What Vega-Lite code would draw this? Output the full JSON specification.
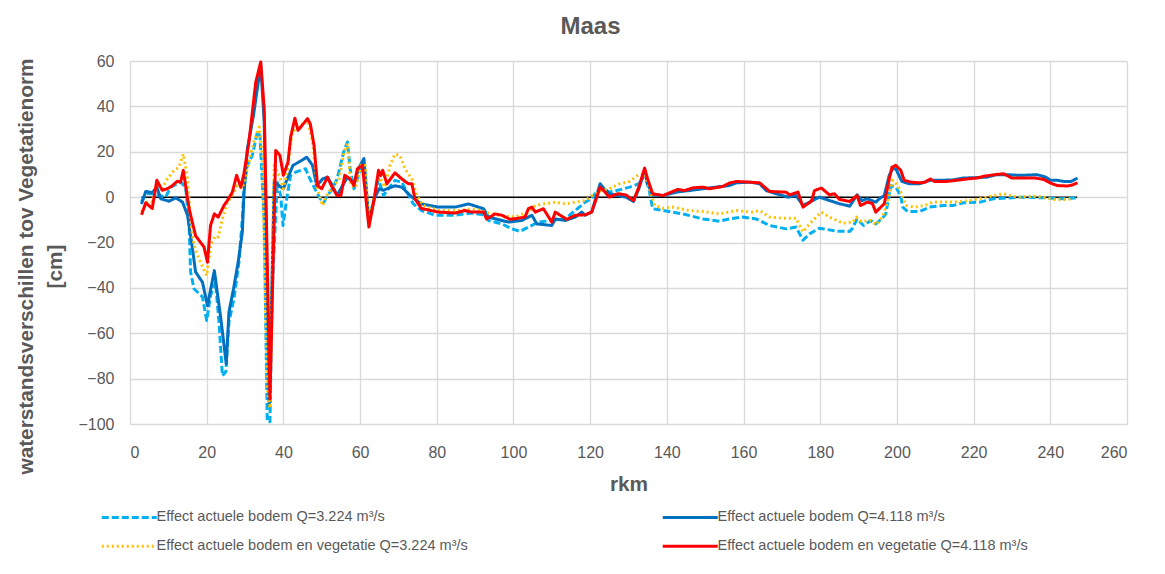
{
  "$schema": "https://vega.github.io/schema/vega-lite/v6.json",
  "width": 997,
  "height": 363,
  "autosize": {"type": "none"},
  "padding": {"left": 130, "top": 61, "right": 38, "bottom": 150},
  "background": "white",
  "title": {"text": "Maas", "fontSize": 24, "font": "Liberation Sans", "fontWeight": "bold", "color": "#595959", "anchor": "middle", "dx": -38, "offset": 14},
  "config": {
    "font": "Liberation Sans",
    "view": {"stroke": null},
    "axis": {"labelFont": "Liberation Sans", "labelFontSize": 16, "labelColor": "#595959", "titleFont": "Liberation Sans", "titleFontSize": 20.8, "titleFontWeight": "bold", "titleColor": "#595959", "gridColor": "#d9d9d9", "gridWidth": 1.3, "ticks": false, "domain": false}
  },
  "datasets": {
    "zero": [{"x": 3, "y": 0}, {"x": 247, "y": 0}],
    "lines": [
      {"s":"A","x":3,"y":-2},{"s":"A","x":4.1,"y":1.5},{"s":"A","x":5.8,"y":1.5},{"s":"A","x":7.6,"y":0.7},{"s":"A","x":9.3,"y":0},{"s":"A","x":10.6,"y":4.4},{"s":"A","x":13.2,"y":6.6},{"s":"A","x":14.5,"y":4.4},{"s":"A","x":15.4,"y":-11},{"s":"A","x":15.8,"y":-33},{"s":"A","x":16.7,"y":-40.4},{"s":"A","x":18.9,"y":-44},{"s":"A","x":20,"y":-54.4},{"s":"A","x":21,"y":-43.4},{"s":"A","x":22.3,"y":-37.5},{"s":"A","x":23.2,"y":-55},{"s":"A","x":24.1,"y":-78.7},{"s":"A","x":25,"y":-77},{"s":"A","x":25.8,"y":-55},{"s":"A","x":27.1,"y":-44.9},{"s":"A","x":28.4,"y":-28.7},{"s":"A","x":29.3,"y":-9.6},{"s":"A","x":29.7,"y":3.7},{"s":"A","x":30.6,"y":14},{"s":"A","x":31.9,"y":18.4},{"s":"A","x":33.2,"y":28.7},{"s":"A","x":33.9,"y":27},{"s":"A","x":35,"y":-11},{"s":"A","x":35.8,"y":-99},{"s":"A","x":36.5,"y":-99},{"s":"A","x":37.1,"y":-40},{"s":"A","x":38.4,"y":6.6},{"s":"A","x":39.3,"y":0.7},{"s":"A","x":39.9,"y":-12.5},{"s":"A","x":41,"y":0.7},{"s":"A","x":41.9,"y":9.6},{"s":"A","x":43.2,"y":11},{"s":"A","x":45.8,"y":12.5},{"s":"A","x":46.7,"y":8.8},{"s":"A","x":48,"y":4.4},{"s":"A","x":49.6,"y":-0.7},{"s":"A","x":50.6,"y":-2.2},{"s":"A","x":51.5,"y":0.7},{"s":"A","x":52.8,"y":3.7},{"s":"A","x":54,"y":8},{"s":"A","x":55.7,"y":19.8},{"s":"A","x":56.7,"y":24.3},{"s":"A","x":57.4,"y":12.5},{"s":"A","x":58.4,"y":3.7},{"s":"A","x":59.7,"y":10.3},{"s":"A","x":61,"y":15.4},{"s":"A","x":62.3,"y":-11},{"s":"A","x":64.8,"y":8},{"s":"A","x":66.1,"y":0.7},{"s":"A","x":67.4,"y":3.7},{"s":"A","x":69.1,"y":7.4},{"s":"A","x":70.9,"y":6.6},{"s":"A","x":72.2,"y":2.2},{"s":"A","x":73.9,"y":-3},{"s":"A","x":76,"y":-5.9},{"s":"A","x":79.6,"y":-8},{"s":"A","x":84.8,"y":-8},{"s":"A","x":89.1,"y":-7},{"s":"A","x":92.2,"y":-7.8},{"s":"A","x":93.5,"y":-10.3},{"s":"A","x":97,"y":-11.8},{"s":"A","x":99.6,"y":-14},{"s":"A","x":101.7,"y":-15.1},{"s":"A","x":103.9,"y":-13.2},{"s":"A","x":106.5,"y":-11},{"s":"A","x":110,"y":-10.3},{"s":"A","x":113.5,"y":-9.6},{"s":"A","x":116.1,"y":-5.9},{"s":"A","x":118.7,"y":-2.2},{"s":"A","x":120.4,"y":-0.7},{"s":"A","x":121.3,"y":1.5},{"s":"A","x":123,"y":4.4},{"s":"A","x":125,"y":2.2},{"s":"A","x":127.2,"y":3},{"s":"A","x":130.3,"y":4.4},{"s":"A","x":132.7,"y":5.9},{"s":"A","x":134.2,"y":9.6},{"s":"A","x":135.5,"y":2.2},{"s":"A","x":136.3,"y":-5.1},{"s":"A","x":139,"y":-5.9},{"s":"A","x":144.2,"y":-7.4},{"s":"A","x":149.4,"y":-9.6},{"s":"A","x":153.7,"y":-10.6},{"s":"A","x":156.3,"y":-9.6},{"s":"A","x":159.8,"y":-8.8},{"s":"A","x":163.3,"y":-9.6},{"s":"A","x":166.8,"y":-12.5},{"s":"A","x":171.1,"y":-14},{"s":"A","x":173.7,"y":-13.2},{"s":"A","x":175.5,"y":-19},{"s":"A","x":177.2,"y":-16.2},{"s":"A","x":179.8,"y":-13.7},{"s":"A","x":184.2,"y":-15},{"s":"A","x":187.7,"y":-15.1},{"s":"A","x":188.3,"y":-14},{"s":"A","x":189.6,"y":-9.6},{"s":"A","x":191.3,"y":-12.5},{"s":"A","x":193.2,"y":-10.3},{"s":"A","x":194.5,"y":-11.8},{"s":"A","x":196.2,"y":-9.3},{"s":"A","x":197.1,"y":-7.4},{"s":"A","x":198.4,"y":5.1},{"s":"A","x":199.7,"y":4.4},{"s":"A","x":201,"y":0.7},{"s":"A","x":201.5,"y":-4.4},{"s":"A","x":202.8,"y":-6.3},{"s":"A","x":205.9,"y":-6.3},{"s":"A","x":208.5,"y":-4.4},{"s":"A","x":212,"y":-3.7},{"s":"A","x":214.6,"y":-3.7},{"s":"A","x":217.3,"y":-2.5},{"s":"A","x":221.7,"y":-2.2},{"s":"A","x":225.2,"y":-0.7},{"s":"A","x":228.7,"y":-0.4},{"s":"A","x":232.2,"y":0},{"s":"A","x":236.6,"y":-0.2},{"s":"A","x":240,"y":-0.4},{"s":"A","x":242.7,"y":-0.7},{"s":"A","x":246.7,"y":-0.4},
      {"s":"B","x":3,"y":-3},{"s":"B","x":4.1,"y":2.5},{"s":"B","x":5.8,"y":2},{"s":"B","x":7,"y":4.4},{"s":"B","x":8,"y":-0.7},{"s":"B","x":10.2,"y":-1.8},{"s":"B","x":11.9,"y":-0.3},{"s":"B","x":13.7,"y":-2.2},{"s":"B","x":15,"y":-8},{"s":"B","x":16.3,"y":-22.8},{"s":"B","x":17.1,"y":-33},{"s":"B","x":18.9,"y":-37.5},{"s":"B","x":20.2,"y":-47.8},{"s":"B","x":22,"y":-32.4},{"s":"B","x":23.7,"y":-53.7},{"s":"B","x":25.1,"y":-73.5},{"s":"B","x":25.8,"y":-50.7},{"s":"B","x":27,"y":-40.4},{"s":"B","x":28.2,"y":-28.7},{"s":"B","x":29.3,"y":-15.4},{"s":"B","x":29.7,"y":0.7},{"s":"B","x":30.6,"y":21.3},{"s":"B","x":32.2,"y":36},{"s":"B","x":33.2,"y":47.8},{"s":"B","x":34.1,"y":58},{"s":"B","x":35,"y":33},{"s":"B","x":36.3,"y":-92},{"s":"B","x":37.6,"y":6.6},{"s":"B","x":38.9,"y":5},{"s":"B","x":40,"y":3.7},{"s":"B","x":41,"y":8},{"s":"B","x":42.5,"y":14},{"s":"B","x":44,"y":15.4},{"s":"B","x":46.1,"y":17.6},{"s":"B","x":47.6,"y":14},{"s":"B","x":48.7,"y":5},{"s":"B","x":50.2,"y":8},{"s":"B","x":51.5,"y":8.8},{"s":"B","x":52.8,"y":5},{"s":"B","x":54,"y":0.7},{"s":"B","x":55.4,"y":5},{"s":"B","x":56.7,"y":8.8},{"s":"B","x":58.4,"y":6},{"s":"B","x":59.7,"y":13},{"s":"B","x":61,"y":17},{"s":"B","x":62.3,"y":-11},{"s":"B","x":63.7,"y":-0.7},{"s":"B","x":65,"y":3.7},{"s":"B","x":66,"y":3},{"s":"B","x":69.1,"y":5},{"s":"B","x":70.9,"y":4.4},{"s":"B","x":72.2,"y":2.2},{"s":"B","x":73.5,"y":0},{"s":"B","x":76,"y":-3},{"s":"B","x":80.4,"y":-4.4},{"s":"B","x":84.8,"y":-4.4},{"s":"B","x":88.3,"y":-3},{"s":"B","x":92.2,"y":-5.1},{"s":"B","x":93.5,"y":-8.8},{"s":"B","x":98.7,"y":-11},{"s":"B","x":102.2,"y":-10.3},{"s":"B","x":104.8,"y":-8},{"s":"B","x":106.1,"y":-11.8},{"s":"B","x":110,"y":-12.5},{"s":"B","x":110.9,"y":-9.6},{"s":"B","x":113.5,"y":-10.3},{"s":"B","x":116.1,"y":-8.8},{"s":"B","x":117.8,"y":-6.6},{"s":"B","x":118.7,"y":-8},{"s":"B","x":120.4,"y":-6.6},{"s":"B","x":122.6,"y":5.9},{"s":"B","x":124,"y":3},{"s":"B","x":125,"y":1.5},{"s":"B","x":127.2,"y":0.7},{"s":"B","x":129.3,"y":0},{"s":"B","x":131.3,"y":-1.9},{"s":"B","x":132.7,"y":3.7},{"s":"B","x":134.2,"y":11.8},{"s":"B","x":135,"y":5.9},{"s":"B","x":136.3,"y":1},{"s":"B","x":139,"y":0.7},{"s":"B","x":142.4,"y":2.2},{"s":"B","x":145.9,"y":2.9},{"s":"B","x":149.4,"y":3.7},{"s":"B","x":152.8,"y":4.4},{"s":"B","x":156.3,"y":5.1},{"s":"B","x":158.1,"y":6.3},{"s":"B","x":161.6,"y":6.6},{"s":"B","x":164.2,"y":5.9},{"s":"B","x":165.9,"y":2.9},{"s":"B","x":168.5,"y":1.5},{"s":"B","x":171.6,"y":0},{"s":"B","x":173.7,"y":0.7},{"s":"B","x":175.5,"y":-3.7},{"s":"B","x":177.2,"y":-2.2},{"s":"B","x":179.8,"y":0},{"s":"B","x":182.4,"y":-1.5},{"s":"B","x":185,"y":-2.9},{"s":"B","x":187.7,"y":-4},{"s":"B","x":189.6,"y":1},{"s":"B","x":190.9,"y":-1.5},{"s":"B","x":192.3,"y":-0.7},{"s":"B","x":194.5,"y":-2.2},{"s":"B","x":195.4,"y":-0.7},{"s":"B","x":196.7,"y":0.7},{"s":"B","x":198,"y":9.6},{"s":"B","x":198.9,"y":12.5},{"s":"B","x":199.7,"y":12.5},{"s":"B","x":201.3,"y":6.9},{"s":"B","x":203.2,"y":5.9},{"s":"B","x":205.9,"y":5.9},{"s":"B","x":208.7,"y":7.4},{"s":"B","x":211.1,"y":7.4},{"s":"B","x":214.6,"y":7.6},{"s":"B","x":217.3,"y":8.4},{"s":"B","x":220.8,"y":8.6},{"s":"B","x":223.4,"y":8.8},{"s":"B","x":226,"y":9.9},{"s":"B","x":228.7,"y":9.9},{"s":"B","x":232.2,"y":9.6},{"s":"B","x":236.6,"y":9.9},{"s":"B","x":238.8,"y":8.8},{"s":"B","x":240.1,"y":7.4},{"s":"B","x":241.8,"y":7.4},{"s":"B","x":243.6,"y":6.9},{"s":"B","x":245.4,"y":6.9},{"s":"B","x":247.1,"y":8.4},
      {"s":"C","x":3,"y":-6.6},{"s":"C","x":4.5,"y":-2.2},{"s":"C","x":5.8,"y":-2.2},{"s":"C","x":7,"y":6.6},{"s":"C","x":8.4,"y":3.7},{"s":"C","x":9.7,"y":8},{"s":"C","x":11.5,"y":11.8},{"s":"C","x":12.8,"y":13.2},{"s":"C","x":13.9,"y":19},{"s":"C","x":15,"y":8},{"s":"C","x":15.8,"y":-11},{"s":"C","x":16.7,"y":-21.3},{"s":"C","x":18,"y":-27.2},{"s":"C","x":20,"y":-34.6},{"s":"C","x":21,"y":-21.3},{"s":"C","x":22.3,"y":-17},{"s":"C","x":23,"y":-17.5},{"s":"C","x":24.1,"y":-9.6},{"s":"C","x":25.4,"y":-2.2},{"s":"C","x":26.7,"y":0.7},{"s":"C","x":28,"y":5},{"s":"C","x":29.3,"y":3.7},{"s":"C","x":30.6,"y":12.5},{"s":"C","x":32.3,"y":24.3},{"s":"C","x":33.7,"y":30.9},{"s":"C","x":34.5,"y":18.4},{"s":"C","x":35.8,"y":-84.6},{"s":"C","x":36.5,"y":-93},{"s":"C","x":37.6,"y":14},{"s":"C","x":38.9,"y":9.6},{"s":"C","x":40,"y":3.7},{"s":"C","x":41,"y":11},{"s":"C","x":42.3,"y":28.7},{"s":"C","x":43.7,"y":30.9},{"s":"C","x":46.3,"y":33.8},{"s":"C","x":47.6,"y":24.3},{"s":"C","x":48.9,"y":3.7},{"s":"C","x":50.2,"y":-3.7},{"s":"C","x":51.5,"y":1.5},{"s":"C","x":52.8,"y":4.4},{"s":"C","x":54.5,"y":8},{"s":"C","x":55.8,"y":19.8},{"s":"C","x":56.7,"y":23.5},{"s":"C","x":57.6,"y":5},{"s":"C","x":58.9,"y":4.4},{"s":"C","x":60.2,"y":14},{"s":"C","x":61.3,"y":14},{"s":"C","x":62.3,"y":-11},{"s":"C","x":64.8,"y":9.6},{"s":"C","x":66.5,"y":4.4},{"s":"C","x":67.8,"y":14},{"s":"C","x":69.1,"y":19},{"s":"C","x":70.4,"y":18.4},{"s":"C","x":71.7,"y":12.5},{"s":"C","x":73.5,"y":8},{"s":"C","x":74.8,"y":0.7},{"s":"C","x":76.5,"y":-3.7},{"s":"C","x":80.4,"y":-5.9},{"s":"C","x":85.7,"y":-5.9},{"s":"C","x":89.1,"y":-5.1},{"s":"C","x":92.2,"y":-6.3},{"s":"C","x":94.3,"y":-7.4},{"s":"C","x":97.8,"y":-8.4},{"s":"C","x":100.4,"y":-8.8},{"s":"C","x":103.9,"y":-6.6},{"s":"C","x":105.7,"y":-3.7},{"s":"C","x":107.8,"y":-3},{"s":"C","x":110.9,"y":-2.2},{"s":"C","x":113.5,"y":-3},{"s":"C","x":116.1,"y":-2.2},{"s":"C","x":118.7,"y":-1.5},{"s":"C","x":120.4,"y":0.7},{"s":"C","x":123,"y":2.9},{"s":"C","x":125,"y":3.7},{"s":"C","x":127.7,"y":5.9},{"s":"C","x":130.3,"y":6.9},{"s":"C","x":132.4,"y":9.6},{"s":"C","x":134.2,"y":10.3},{"s":"C","x":135.5,"y":3.7},{"s":"C","x":136.8,"y":-3.7},{"s":"C","x":139,"y":-4.9},{"s":"C","x":141.6,"y":-4.4},{"s":"C","x":145.9,"y":-5.9},{"s":"C","x":149.4,"y":-6.3},{"s":"C","x":153.7,"y":-7.4},{"s":"C","x":158.1,"y":-5.9},{"s":"C","x":162.4,"y":-6.6},{"s":"C","x":164.2,"y":-5.9},{"s":"C","x":166.8,"y":-8.8},{"s":"C","x":170.3,"y":-9.3},{"s":"C","x":173.7,"y":-9.3},{"s":"C","x":175.5,"y":-15.4},{"s":"C","x":177.2,"y":-11.8},{"s":"C","x":180.3,"y":-6.6},{"s":"C","x":182.4,"y":-8.8},{"s":"C","x":185.9,"y":-11.5},{"s":"C","x":188.5,"y":-11},{"s":"C","x":189.4,"y":-8.8},{"s":"C","x":190.7,"y":-10.7},{"s":"C","x":193.2,"y":-10.3},{"s":"C","x":194.5,"y":-12.2},{"s":"C","x":196.2,"y":-8.8},{"s":"C","x":197.5,"y":-2.2},{"s":"C","x":198.9,"y":7.4},{"s":"C","x":200.2,"y":5.1},{"s":"C","x":201,"y":2.2},{"s":"C","x":202.4,"y":-3.7},{"s":"C","x":204.6,"y":-4.4},{"s":"C","x":207.2,"y":-3.7},{"s":"C","x":209.4,"y":-2.2},{"s":"C","x":214.6,"y":-2.2},{"s":"C","x":219,"y":-1.5},{"s":"C","x":223.4,"y":0},{"s":"C","x":227.8,"y":1.5},{"s":"C","x":231.3,"y":0},{"s":"C","x":236.6,"y":0.4},{"s":"C","x":241,"y":-1},{"s":"C","x":244.5,"y":-1},{"s":"C","x":246.2,"y":-0.7},
      {"s":"D","x":3,"y":-7.8},{"s":"D","x":4.1,"y":-2.5},{"s":"D","x":5.8,"y":-5},{"s":"D","x":7,"y":7.4},{"s":"D","x":8.4,"y":3},{"s":"D","x":9.7,"y":3.7},{"s":"D","x":11,"y":5},{"s":"D","x":12.3,"y":7},{"s":"D","x":13.2,"y":6.6},{"s":"D","x":13.9,"y":11.8},{"s":"D","x":15.4,"y":-5},{"s":"D","x":17.1,"y":-17},{"s":"D","x":19.3,"y":-22},{"s":"D","x":20.2,"y":-28.7},{"s":"D","x":21,"y":-12.5},{"s":"D","x":22,"y":-7.4},{"s":"D","x":23,"y":-8.8},{"s":"D","x":24.5,"y":-3.7},{"s":"D","x":25.4,"y":-1.5},{"s":"D","x":26.7,"y":2.2},{"s":"D","x":27.8,"y":9.6},{"s":"D","x":28.9,"y":4.4},{"s":"D","x":29.7,"y":10.3},{"s":"D","x":31,"y":24},{"s":"D","x":32.8,"y":50.7},{"s":"D","x":34.1,"y":59.6},{"s":"D","x":35,"y":39},{"s":"D","x":36.5,"y":-89},{"s":"D","x":38,"y":20.6},{"s":"D","x":39.1,"y":18.4},{"s":"D","x":40,"y":9.6},{"s":"D","x":41.2,"y":15.4},{"s":"D","x":41.9,"y":26.5},{"s":"D","x":43,"y":34.8},{"s":"D","x":43.8,"y":29.4},{"s":"D","x":46.3,"y":34.6},{"s":"D","x":47,"y":32.4},{"s":"D","x":48,"y":22.8},{"s":"D","x":48.9,"y":5.1},{"s":"D","x":50,"y":3.7},{"s":"D","x":51.5,"y":8.8},{"s":"D","x":52.5,"y":5.1},{"s":"D","x":54,"y":0.7},{"s":"D","x":55,"y":0.7},{"s":"D","x":56,"y":9.6},{"s":"D","x":57.4,"y":8},{"s":"D","x":58.4,"y":5.1},{"s":"D","x":59.3,"y":12.5},{"s":"D","x":60.6,"y":14},{"s":"D","x":62.3,"y":-13.2},{"s":"D","x":63.7,"y":-0.7},{"s":"D","x":64.8,"y":11.8},{"s":"D","x":65.4,"y":9.5},{"s":"D","x":65.9,"y":11.8},{"s":"D","x":67,"y":5.9},{"s":"D","x":69.1,"y":10.7},{"s":"D","x":70.9,"y":8},{"s":"D","x":72.6,"y":5.9},{"s":"D","x":73.5,"y":5.9},{"s":"D","x":74.3,"y":-0.7},{"s":"D","x":76,"y":-5},{"s":"D","x":80.4,"y":-6.6},{"s":"D","x":84.8,"y":-7},{"s":"D","x":87.4,"y":-5.9},{"s":"D","x":89.1,"y":-6.6},{"s":"D","x":92.2,"y":-6.6},{"s":"D","x":93,"y":-9.6},{"s":"D","x":95.2,"y":-7.4},{"s":"D","x":97,"y":-8},{"s":"D","x":99.1,"y":-9.8},{"s":"D","x":101.3,"y":-9.3},{"s":"D","x":103,"y":-8.8},{"s":"D","x":103.9,"y":-5.1},{"s":"D","x":104.8,"y":-4.4},{"s":"D","x":105.7,"y":-6.6},{"s":"D","x":107.8,"y":-5.1},{"s":"D","x":110,"y":-11},{"s":"D","x":110.9,"y":-6.6},{"s":"D","x":112.2,"y":-8},{"s":"D","x":113.9,"y":-9.8},{"s":"D","x":116.1,"y":-8},{"s":"D","x":118.7,"y":-7.8},{"s":"D","x":120.4,"y":-6.6},{"s":"D","x":121.3,"y":-2.2},{"s":"D","x":122.6,"y":4.4},{"s":"D","x":123.9,"y":2.2},{"s":"D","x":125,"y":0},{"s":"D","x":127.2,"y":1.5},{"s":"D","x":129.3,"y":1},{"s":"D","x":131.3,"y":-1.5},{"s":"D","x":132.7,"y":4.4},{"s":"D","x":134.2,"y":12.8},{"s":"D","x":135,"y":8},{"s":"D","x":136.3,"y":1.5},{"s":"D","x":139,"y":0.7},{"s":"D","x":140.7,"y":1.9},{"s":"D","x":142.9,"y":3.4},{"s":"D","x":144.6,"y":2.9},{"s":"D","x":146.8,"y":4.1},{"s":"D","x":149.4,"y":4.4},{"s":"D","x":151.1,"y":3.7},{"s":"D","x":154.6,"y":4.7},{"s":"D","x":156.3,"y":6.2},{"s":"D","x":158.1,"y":6.9},{"s":"D","x":161.6,"y":6.6},{"s":"D","x":164.2,"y":6.3},{"s":"D","x":166.8,"y":2.5},{"s":"D","x":171.1,"y":2.2},{"s":"D","x":172,"y":1},{"s":"D","x":174.2,"y":2.2},{"s":"D","x":175.5,"y":-4.4},{"s":"D","x":177.7,"y":-1.8},{"s":"D","x":178.5,"y":2.9},{"s":"D","x":180.3,"y":4},{"s":"D","x":182.4,"y":1},{"s":"D","x":183.7,"y":1.5},{"s":"D","x":185,"y":-1},{"s":"D","x":187.7,"y":-1.9},{"s":"D","x":189.6,"y":0.7},{"s":"D","x":190.5,"y":-3.7},{"s":"D","x":192.3,"y":-2.2},{"s":"D","x":193.6,"y":-2.8},{"s":"D","x":194.5,"y":-6.6},{"s":"D","x":195.8,"y":-4.4},{"s":"D","x":196.7,"y":-2.9},{"s":"D","x":198,"y":8},{"s":"D","x":198.7,"y":13.2},{"s":"D","x":199.7,"y":14},{"s":"D","x":201,"y":11.8},{"s":"D","x":201.9,"y":7.4},{"s":"D","x":203.7,"y":6.6},{"s":"D","x":205.9,"y":6.3},{"s":"D","x":207.3,"y":6.6},{"s":"D","x":208.7,"y":8},{"s":"D","x":209.8,"y":6.9},{"s":"D","x":212.9,"y":6.9},{"s":"D","x":215.5,"y":7.4},{"s":"D","x":218.2,"y":8},{"s":"D","x":220.8,"y":8.4},{"s":"D","x":223,"y":9.3},{"s":"D","x":225.6,"y":9.9},{"s":"D","x":227.8,"y":10.3},{"s":"D","x":230,"y":8.4},{"s":"D","x":233.1,"y":8.4},{"s":"D","x":236.1,"y":8.4},{"s":"D","x":238.3,"y":7.8},{"s":"D","x":239.6,"y":6.6},{"s":"D","x":240.5,"y":5.9},{"s":"D","x":241.8,"y":5.1},{"s":"D","x":244.5,"y":4.9},{"s":"D","x":245.8,"y":5.4},{"s":"D","x":247.1,"y":6.3}
    ]
  },
  "layer": [
    {
      "data": {"name": "zero"},
      "mark": {"type": "line", "color": "black", "strokeWidth": 1.5},
      "encoding": {
        "x": {"field": "x", "type": "quantitative", "scale": {"domain": [0, 260], "nice": false}, "axis": {"values": [0,20,40,60,80,100,120,140,160,180,200,220,240,260], "title": "rkm", "labelPadding": 20, "titlePadding": 14}},
        "y": {"field": "y", "type": "quantitative", "scale": {"domain": [-100, 60], "nice": false}, "axis": {"values": [-100,-80,-60,-40,-20,0,20,40,60], "title": ["waterstandsverschillen tov Vegetatienorm", "[cm]"], "titleLineHeight": 29, "labelPadding": 16, "titlePadding": 12, "titleY": 205}}
      }
    },
    {
      "data": {"name": "lines"},
      "mark": {"type": "line", "strokeJoin": "round", "strokeWidth": 3},
      "encoding": {
        "x": {"field": "x", "type": "quantitative"},
        "y": {"field": "y", "type": "quantitative"},
        "color": {
          "field": "s", "type": "nominal",
          "scale": {"domain": ["A","B","C","D"], "range": ["#00B0F0","#0070C0","#FFC000","#FF0000"]},
          "legend": {
            "title": null, "orient": "none", "legendX": -30, "legendY": 449, "columns": 2, "direction": "horizontal",
            "symbolType": "M-5,0H5", "symbolSize": 121, "symbolStrokeWidth": 3, "symbolOffset": 22,
            "labelFont": "Liberation Sans", "labelFontSize": 14.5, "labelColor": "#595959", "labelLimit": 500, "labelOffset": 20,
            "rowPadding": 14, "columnPadding": 188,
            "labelExpr": "datum.label == 'A' ? 'Effect actuele bodem Q=3.224 m³/s' : datum.label == 'B' ? 'Effect actuele bodem Q=4.118 m³/s' : datum.label == 'C' ? 'Effect actuele bodem en vegetatie Q=3.224 m³/s' : 'Effect actuele bodem en vegetatie Q=4.118 m³/s'"
          }
        },
        "strokeDash": {
          "field": "s", "type": "nominal",
          "scale": {"domain": ["A","B","C","D"], "range": [[7,3],[1,0],[2,3],[1,0]]},
          "legend": {
            "title": null, "orient": "none", "legendX": -30, "legendY": 449, "columns": 2, "direction": "horizontal",
            "symbolType": "M-5,0H5", "symbolSize": 121, "symbolStrokeWidth": 3, "symbolOffset": 22,
            "labelFont": "Liberation Sans", "labelFontSize": 14.5, "labelColor": "#595959", "labelLimit": 500, "labelOffset": 20,
            "rowPadding": 14, "columnPadding": 188,
            "labelExpr": "datum.label == 'A' ? 'Effect actuele bodem Q=3.224 m³/s' : datum.label == 'B' ? 'Effect actuele bodem Q=4.118 m³/s' : datum.label == 'C' ? 'Effect actuele bodem en vegetatie Q=3.224 m³/s' : 'Effect actuele bodem en vegetatie Q=4.118 m³/s'"
          }
        }
      }
    }
  ]
}
